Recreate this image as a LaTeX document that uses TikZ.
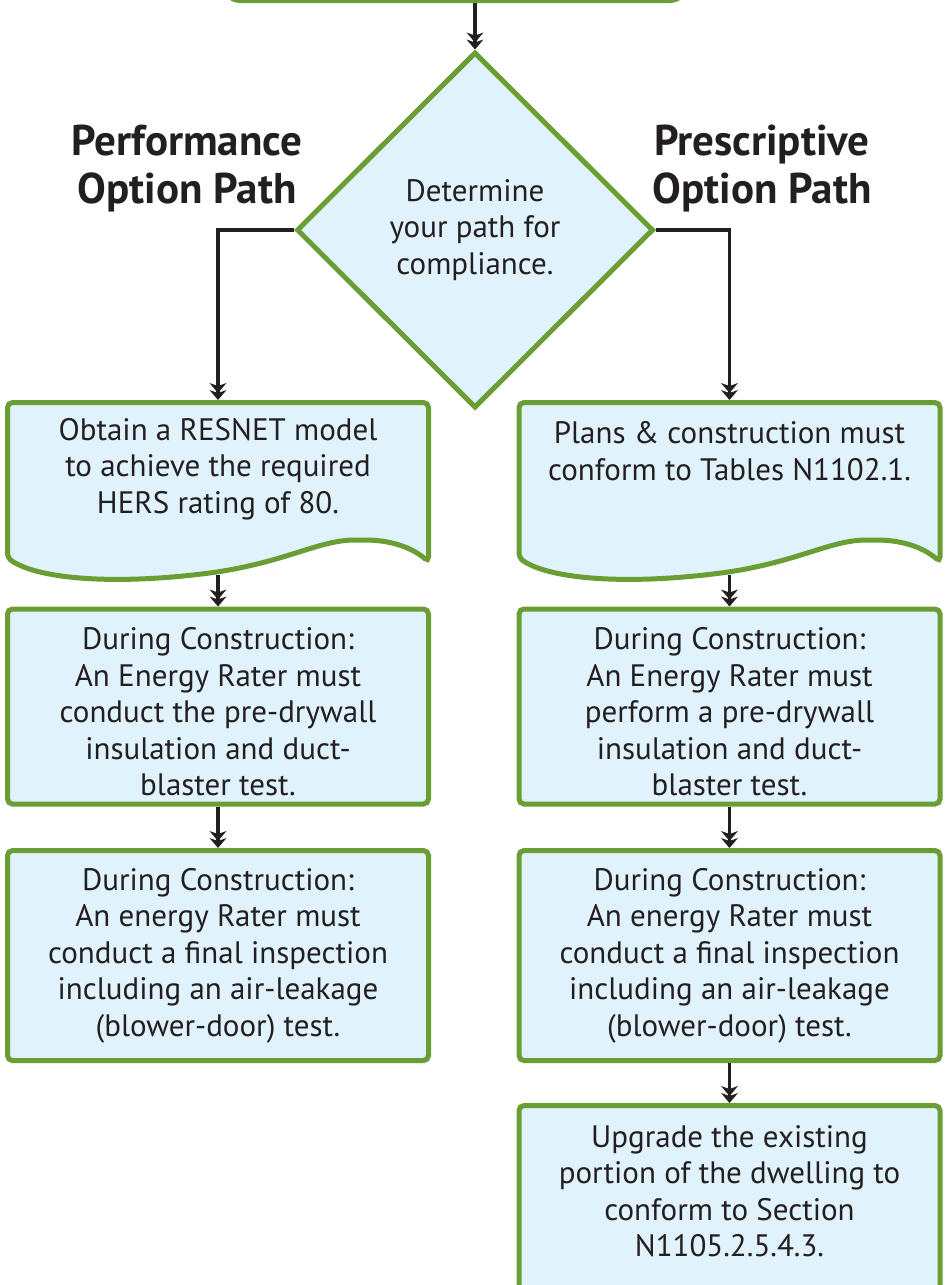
\documentclass[tikz,border=0pt]{standalone}
\usepackage{fontspec}
\setmainfont{PT Sans}
\usetikzlibrary{shapes.geometric,arrows.meta,backgrounds}
\definecolor{grn}{HTML}{6A9E35}
\definecolor{lblue}{HTML}{E0F2FB}
\definecolor{ink}{HTML}{231F20}
\newcommand\bxfont{\fontsize{31}{36.5}\selectfont}
\newcommand\ttlfont{\bfseries\fontsize{43}{48}\selectfont}
\tikzset{
  boxst/.style={draw=grn, fill=lblue, line width=5pt, rounded corners=5pt,
    minimum width=421pt, inner sep=0pt, outer sep=2.5pt, text=ink,
    align=center, font=\bxfont},
  docst/.style={draw=grn, fill=lblue, line width=5pt, rounded corners=5pt},
  inv/.style={draw=none, fill=none, inner sep=0pt, outer sep=2.5pt,
    minimum width=421pt},
  txt/.style={text=ink, align=center, font=\bxfont, inner sep=0pt},
  ttl/.style={text=ink, align=center, font=\ttlfont, inner sep=0pt},
  diast/.style={diamond, draw=grn, fill=lblue, line width=5pt, inner sep=0pt,
    outer sep=2.5pt, minimum width=357pt, minimum height=356pt, text=ink,
    align=center, font=\bxfont},
  tipa/.tip={Stealth[length=10pt,width=17pt,inset=3pt,line width=0pt]},
  arr/.style={draw=ink, line width=3.8pt, -{tipa},
    postaction={draw=ink, line width=3.8pt, shorten >=7pt, -{tipa}}},
}
\newcommand\docshape[1]{%
  \begin{scope}[xshift=#1]
  \filldraw[docst] (7.5,558) -- (7.5,402.5) -- (428.5,402.5) -- (428.5,562)
    .. controls (415,550) and (395,540) .. (360,540)
    .. controls (320,540) and (290,560) .. (217,572)
    .. controls (120,585) and (40,580) .. (7.5,558) -- cycle;
  \end{scope}}
\begin{document}
\begin{tikzpicture}[x=1pt,y=-1pt]
\useasboundingbox (0,0) rectangle (949,1285);
\begin{scope}[on background layer]
\fill[white] (0,0) rectangle (949,1285);
\end{scope}
\clip (0,0) rectangle (949,1285);

% start terminal (cut off)
\node[boxst, minimum width=465pt, minimum height=100pt, rounded corners=18pt] (start) at (455,-49.5) {};

% decision
\node[diast] (dia) at (475,230) {Determine\\your path for\\compliance.};

% titles
\node[ttl] (perf) at (187,169) {Performance\\Option Path};
\node[ttl] (pres) at (762,169) {Prescriptive\\Option Path};

% document shapes
\docshape{0pt}
\docshape{511.5pt}
\node[inv, minimum height=170pt] (doc1) at (218,487.5) {};
\node[inv, minimum height=170pt] (doc2) at (729.5,487.5) {};
\node[txt] (doc1t) at (218,469) {Obtain a RESNET model\\to achieve the required\\HERS rating of 80.};
\node[txt] (doc2t) at (729.5,451) {Plans \& construction must\\conform to Tables N1102.1.};

% left column
\node[boxst, minimum height=195pt] (l2) at (218,706.5) {\rule{0pt}{33pt}During Construction:\\An Energy Rater must\\conduct the pre-drywall\\insulation and duct-\\blaster test.};
\node[boxst, minimum height=210pt] (l3) at (218,955.5) {During Construction:\\An energy Rater must\\conduct a final inspection\\including an air-leakage\\(blower-door) test.};

% right column
\node[boxst, minimum height=195pt] (r2) at (729.5,706.5) {\rule{0pt}{33pt}During Construction:\\An Energy Rater must\\perform a pre-drywall\\insulation and duct-\\blaster test.};
\node[boxst, minimum height=210pt] (r3) at (729.5,955.5) {During Construction:\\An energy Rater must\\conduct a final inspection\\including an air-leakage\\(blower-door) test.};
\node[boxst, minimum height=240pt] (r4) at (729.5,1225.5) {};
\node[txt] (r4t) at (729.5,1191) {Upgrade the existing\\portion of the dwelling to\\conform to Section\\N1105.2.5.4.3.};

% connectors
\begin{scope}[on background layer]
\draw[arr] (start.south -| dia.north) -- (dia.north);
\draw[arr] (dia.west) -| (doc1.north);
\draw[arr] (dia.east) -| (doc2.north);
\draw[arr] (doc1.south) -- (l2.north);
\draw[arr] (doc2.south) -- (r2.north);
\end{scope}
\draw[arr] (l2.south) -- (l3.north);
\draw[arr] (r2.south) -- (r3.north);
\draw[arr] (r3.south) -- (r4.north);
\end{tikzpicture}
\end{document}
